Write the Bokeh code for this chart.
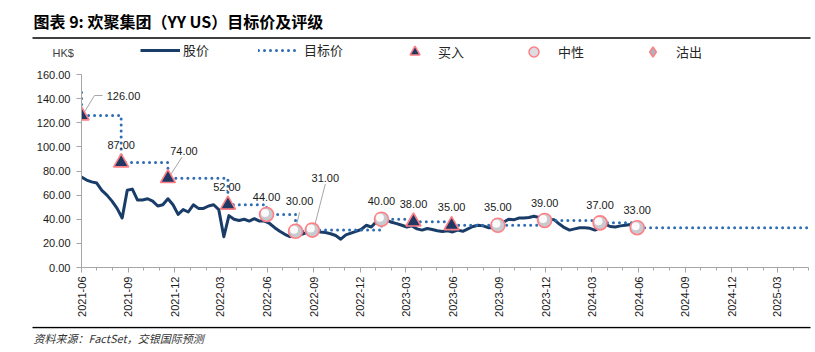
import math
import pandas as pd
from bokeh.plotting import figure
from bokeh.layouts import column
from bokeh.models import (Range1d, FixedTicker, DatetimeTickFormatter, NumeralTickFormatter,
                          Label, Legend, LegendItem, Plot)
from bokeh.core.properties import value
from bokeh.embed import file_html
from bokeh.resources import INLINE

# ---------------- data ----------------
title_text = "图表 9: 欢聚集团（YY US）目标价及评级"
source_text = "资料来源：FactSet，交银国际预测"
unit_text = "HK$"
legend_labels = ["股价", "目标价", "买入", "中性", "沽出"]

price_start = "2021-06-01"
price_step = "10D"
price = [
    75, 72.5, 71, 70, 64, 60, 55, 49, 41, 64,
    65, 56, 56, 57, 55, 51, 52, 57, 52, 44,
    48, 46, 52, 49, 49, 51, 52, 48, 25.5, 43,
    40, 39, 40, 38.5, 40.5, 38.5, 38.5, 36.5, 33, 30,
    27.5, 25.5, 27.5, 27, 28.5, 29.5, 30.5, 29.5, 29, 28,
    26.5, 23.5, 27, 28.5, 30, 31.5, 35, 33.6, 38, 40.5,
    39, 37.5, 36.4, 35, 33.6, 34.5, 32, 31, 32.3, 31.5,
    30.5, 29.8, 30.5, 29.5, 31, 30, 32, 34, 35, 34.5,
    33, 33, 34.5, 37.5, 40, 39.5, 41, 41, 41.5, 42.5,
    41.5, 40, 40, 39.5, 36, 33, 31, 32, 33, 33,
    32.5, 31, 33, 36, 34, 33.6, 34.5, 35, 35.6,
]

prior_target = 145.0
event_dates = ["2021-06-01", "2021-08-18", "2021-11-18", "2022-03-16", "2022-05-31",
               "2022-07-27", "2022-08-29", "2023-01-12", "2023-03-16", "2023-05-30",
               "2023-08-29", "2023-11-29", "2024-03-17", "2024-05-29"]
event_targets = [126, 87, 74, 52, 44, 30, 31, 40, 38, 35, 35, 39, 37, 33]
event_ratings = ["买入", "买入", "买入", "买入", "中性", "中性", "中性", "中性",
                 "买入", "买入", "中性", "中性", "中性", "中性"]
target_end = "2025-05-01"

x_start = "2021-06-01"
x_end = "2025-05-01"
x_tick_last = "2025-03-01"
y_ticks = [0, 20, 40, 60, 80, 100, 120, 140, 160]

# ---------------- layout / style ----------------
W = 815
HH, FT = 64, 26            # header / footer heights
MH = 352 - HH - FT          # main figure height
L, R, T, B = 81, 7, 10, 59
FW, FH = W - L - R, MH - T - B
YMAX = 160

PRICE_C = "#1A3C68"
TARGET_C = "#2E6DB4"
PINK = "#FF7F84"
BUY_FILL = "#1F3864"
NEU_FILL = "#C9C9D0"
SELL_FILL = "#A8B5C4"
NUM_FONT = "Liberation Sans"
CJK_FONT = "Noto Sans CJK SC"
HAS_FRAME_ALIGN = "frame_align" in Plot.properties()

x0 = pd.Timestamp(x_start)
x1 = pd.Timestamp(x_end)
ms_per_px = (x1.value / 1e6 - x0.value / 1e6) / FW
v_per_px = YMAX / FH


def no_align(f):
    if HAS_FRAME_ALIGN:
        f.frame_align = False
    return f


def blank(h):
    f = figure(width=W, height=h, x_range=Range1d(0, W), y_range=Range1d(h, 0),
               x_axis_location=None, y_axis_location=None, title=None,
               output_backend="svg", toolbar_location=None,
               min_border_left=0, min_border_right=0, min_border_top=0, min_border_bottom=0)
    f.outline_line_color = None
    f.grid.visible = False
    f.background_fill_color = "white"
    f.border_fill_color = "white"
    return no_align(f)


# ---------------- header ----------------
hdr = blank(HH)
hdr.add_layout(Label(x=33, y=20, text=title_text, text_font=CJK_FONT,
                     text_font_style="bold", text_font_size="16px", text_color="black",
                     text_baseline="middle", text_align="left"))
hdr.segment(x0=[32], y0=[37.5], x1=[810], y1=[37.5], line_color="black", line_width=1.4)
hdr.add_layout(Label(x=52, y=52, text=unit_text, text_font=NUM_FONT,
                     text_font_size="11px", text_color="#404040", text_baseline="middle"))

nan = [float("nan")]
lg_price = hdr.line(nan, nan, line_color=PRICE_C, line_width=3)
lg_target = hdr.line(nan, nan, line_color=TARGET_C, line_width=3, line_dash="0 6", line_cap="round")
lg_buy = hdr.scatter(nan, nan, marker="triangle", fill_color=BUY_FILL, line_color=PINK, line_width=1.5)
lg_neu = hdr.scatter(nan, nan, marker="circle", fill_color="#DCDCE2", line_color=PINK, line_width=1.5)
lg_sell = hdr.scatter(nan, nan, marker="diamond", fill_color=SELL_FILL, line_color=PINK, line_width=1.5)

leg_specs = [
    (lg_price, legend_labels[0], 140, 40, 14, 3),
    (lg_target, legend_labels[1], 258, 38, 14, 8),
    (lg_buy, legend_labels[2], 402, 25, 25, 11),
    (lg_neu, legend_labels[3], 521, 25, 25, 12),
    (lg_sell, legend_labels[4], 640, 25, 25, 11),
]
LEG_CY = 52
for rend, lab, gx, gw, gh, so in leg_specs:
    leg = Legend(items=[LegendItem(label=lab, renderers=[rend])],
                 location=(int(gx), int(round(HH - (LEG_CY + gh / 2)))),
                 orientation="horizontal", glyph_width=gw, glyph_height=gh,
                 label_height=gh, label_standoff=so, padding=0, margin=0, spacing=0,
                 border_line_alpha=0, background_fill_alpha=0,
                 label_text_font=CJK_FONT, label_text_font_size="13px",
                 label_text_color="#262626")
    hdr.add_layout(leg)

# ---------------- main chart ----------------
p = figure(width=W, height=MH, x_axis_type="datetime", title=None,
           x_range=Range1d(x0, x1), y_range=Range1d(0, YMAX),
           output_backend="svg", toolbar_location=None,
           min_border_left=L, min_border_right=R, min_border_top=T, min_border_bottom=B)
p.outline_line_color = None
p.grid.visible = False
p.background_fill_color = "white"
p.border_fill_color = "white"
no_align(p)

price_dates = pd.date_range(price_start, periods=len(price), freq=price_step)
p.line(price_dates, price, line_color=PRICE_C, line_width=3, line_join="round")

ev = pd.to_datetime(event_dates)
tx, ty = [x0], [prior_target]
level = prior_target
for d, v in zip(ev, event_targets):
    tx += [d, d]
    ty += [level, v]
    level = v
tx.append(pd.Timestamp(target_end))
ty.append(level)
p.line(tx, ty, line_color=TARGET_C, line_width=3, line_dash="0 6", line_cap="round")

# leader lines: pixel offsets from the marker, converted to data units
leader_idx = [0, 2, 5, 6]
leader_px = [[(2, 2), (13, 20), (21, 20)],
             [(1, 1), (14, 21)],
             [(0, 2), (4, 19)],
             [(2, 3), (13, 46)]]
lxs, lys = [], []
for i, pts in zip(leader_idx, leader_px):
    bx = ev[i].value / 1e6
    by = event_targets[i]
    lxs.append([bx + a * ms_per_px for a, b in pts])
    lys.append([by + b * v_per_px for a, b in pts])
p.multi_line(lxs, lys, line_color="#A6A6A6", line_width=1)

buy_x = [d for d, r in zip(ev, event_ratings) if r == "买入"]
buy_y = [v for v, r in zip(event_targets, event_ratings) if r == "买入"]
neu_x = [d for d, r in zip(ev, event_ratings) if r == "中性"]
neu_y = [v for v, r in zip(event_targets, event_ratings) if r == "中性"]
p.scatter(buy_x, buy_y, marker="triangle", size=15, fill_color=BUY_FILL,
          line_color=PINK, line_width=1.6)
p.scatter(neu_x, neu_y, marker="circle", size=14, fill_color=NEU_FILL,
          line_color=PINK, line_width=1.6)
# soft highlight (upper-left) to imitate the shaded bubble
hl_x = [d.value / 1e6 - 1.5 * ms_per_px for d in neu_x]
hl_y = [v + 1.5 * v_per_px for v in neu_y]
p.scatter(hl_x, hl_y, marker="circle", size=8, fill_color="white", fill_alpha=0.9,
          line_color=None)

lab_dx = [42, 0, 16, -1, 0, 4, 13, 0, 0, 0, 0, 0, 0, 0]
lab_dy = [20, 18, 27, 18, 17.5, 30, 52, 18, 17.5, 18, 18, 17.5, 17.5, 17.5]
p.text(x=list(ev), y=event_targets, text=[f"{v:.2f}" for v in event_targets],
       x_offset=lab_dx, y_offset=[-d for d in lab_dy],
       text_font=value(NUM_FONT), text_font_size="11px", text_color="#1A1A1A",
       text_align="center", text_baseline="middle")

major = pd.date_range(x_start, x_tick_last, freq="3MS")
minor = pd.date_range(x_start, x_end, freq="MS")
xa = p.xaxis[0]
xa.ticker = FixedTicker(ticks=[d.value / 1e6 for d in major],
                        minor_ticks=[d.value / 1e6 for d in minor])
xa.formatter = DatetimeTickFormatter(days="%Y-%m", months="%Y-%m", years="%Y-%m")
xa.major_label_orientation = math.pi / 2
xa.major_label_standoff = 4
ya = p.yaxis[0]
ya.ticker = FixedTicker(ticks=y_ticks)
ya.formatter = NumeralTickFormatter(format="0.00")
ya.major_label_standoff = 6
for ax in (xa, ya):
    ax.axis_line_color = "#A6A6A6"
    ax.major_tick_line_color = "#A6A6A6"
    ax.minor_tick_line_color = "#A6A6A6"
    ax.major_tick_in = 0
    ax.major_tick_out = 5
    ax.minor_tick_in = 0
    ax.minor_tick_out = 3
    ax.major_label_text_font = NUM_FONT
    ax.major_label_text_font_size = "11px"
    ax.major_label_text_color = "#1A1A1A"
ya.minor_tick_line_color = None

# ---------------- footer ----------------
ftr = blank(FT)
ftr.segment(x0=[32], y0=[1], x1=[810], y1=[1], line_color="black", line_width=1.4)
ftr.add_layout(Label(x=33, y=11, text=source_text, text_font=CJK_FONT,
                     text_font_style="italic", text_font_size="11px", text_color="#333333",
                     text_baseline="middle"))

layout = column(hdr, p, ftr, spacing=0)
open("out.html", "w").write(file_html(layout, INLINE))
